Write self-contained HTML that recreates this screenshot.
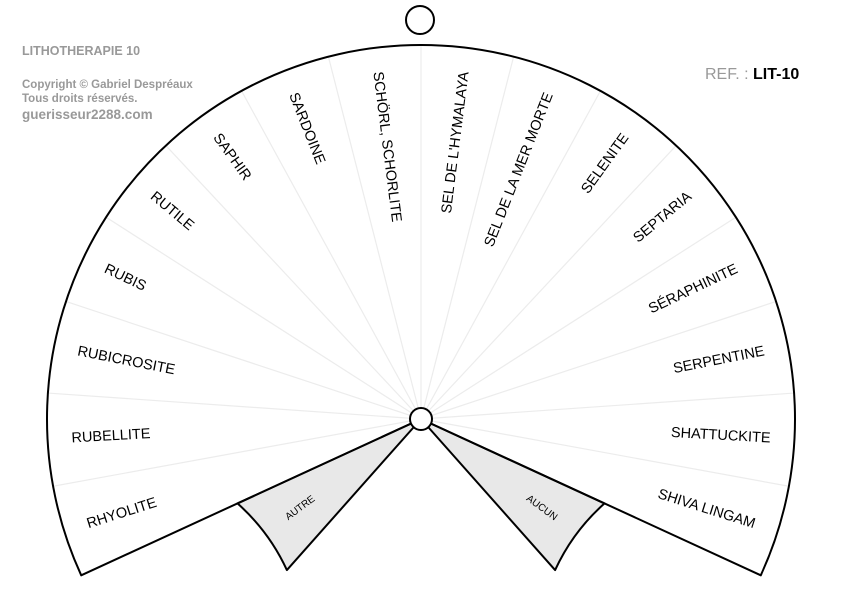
<!DOCTYPE html>
<html><head><meta charset="utf-8"><style>
html,body{margin:0;padding:0;background:#fff;}
svg{display:block;font-family:"Liberation Sans",Arial,sans-serif;}
</style></head><body>
<svg width="842" height="595" viewBox="0 0 842 595" xmlns="http://www.w3.org/2000/svg">
<text x="22" y="55" font-size="12.5" font-weight="bold" fill="#999">LITHOTHERAPIE 10</text>
<text x="22" y="88" font-size="11.5" font-weight="bold" fill="#999">Copyright © Gabriel Despréaux</text>
<text x="22" y="102" font-size="11.5" font-weight="bold" fill="#999">Tous droits réservés.</text>
<text x="22" y="119" font-size="13.5" font-weight="bold" fill="#999">guerisseur2288.com</text>
<text x="705" y="79" font-size="16" fill="#999">REF. : <tspan fill="#000" font-weight="bold">LIT-10</tspan></text>
<circle cx="420" cy="20" r="14" fill="#fff" stroke="#000" stroke-width="2"/>
<g id="g"></g>
</svg>
<script>
(function(){
var ns="http://www.w3.org/2000/svg",g=document.getElementById("g");
var cx=421,cy=419,R=374,a0=204.7,a1=-24.7,n=16,step=(a0-a1)/n;
function P(r,a){a=a*Math.PI/180;return [cx+r*Math.cos(a),cy-r*Math.sin(a)];}
function el(t,at,txt){var e=document.createElementNS(ns,t);for(var k in at)e.setAttribute(k,at[k]);if(txt)e.textContent=txt;g.appendChild(e);return e;}
var L=P(R,a0),Rt=P(R,a1);
el("path",{d:"M"+cx+","+cy+" L"+L+" A"+R+","+R+" 0 1 1 "+Rt+" Z",fill:"#fff",stroke:"none"});
for(var i=1;i<n;i++){var p=P(R,a0-i*step);el("line",{x1:cx,y1:cy,x2:p[0],y2:p[1],stroke:"#ececec","stroke-width":1.2});}
var gr=202;
function sector(s,e){var p1=P(gr,s),p2=P(gr,e);el("path",{d:"M"+cx+","+cy+" L"+p1+" A"+gr+","+gr+" 0 0 0 "+p2+" Z",fill:"#e8e8e8",stroke:"#000","stroke-width":2,"stroke-linejoin":"round"});}
sector(228.4,204.7);sector(-24.7,-48.4);
el("path",{d:"M"+cx+","+cy+" L"+L+" A"+R+","+R+" 0 1 1 "+Rt+" Z",fill:"none",stroke:"#000","stroke-width":2,"stroke-linejoin":"round"});
el("circle",{cx:cx,cy:cy,r:11,fill:"#fff",stroke:"#000","stroke-width":2});
var labels=["RHYOLITE","RUBELLITE","RUBICROSITE","RUBIS","RUTILE","SAPHIR","SARDOINE","SCHÖRL, SCHORLITE","SEL DE L'HYMALAYA","SEL DE LA MER MORTE","SELENITE","SEPTARIA","SÉRAPHINITE","SERPENTINE","SHATTUCKITE","SHIVA LINGAM"];
for(var i=0;i<n;i++){var a=a0-step*(i+0.5),p=P(350,a),left=Math.cos(a*Math.PI/180)<0;
var rot=left?180-a:-a;
el("text",{x:p[0],y:p[1],"font-size":14.5,"text-anchor":left?"start":"end","dominant-baseline":"central",transform:"rotate("+rot+" "+p[0]+" "+p[1]+")"},labels[i]);}
function gl(a,t){var p=P(150,a),left=Math.cos(a*Math.PI/180)<0,rot=left?180-a:-a;
el("text",{x:p[0],y:p[1],"font-size":10,"text-anchor":"middle","dominant-baseline":"central",transform:"rotate("+rot+" "+p[0]+" "+p[1]+")"},t);}
gl(216.5,"AUTRE");gl(-36.5,"AUCUN");
})();
</script>
</body></html>
